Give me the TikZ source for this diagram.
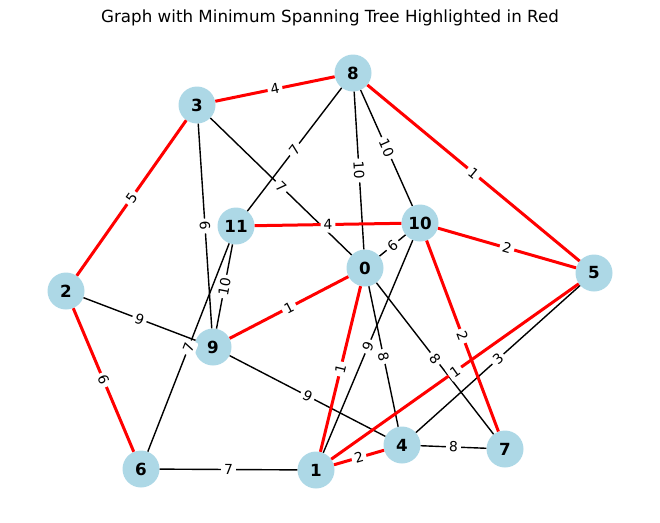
\documentclass[tikz,border=0pt]{standalone}
\usepackage{fontspec}
\setmainfont{DejaVu Sans}
\usetikzlibrary{positioning}
\definecolor{nodeblue}{RGB}{173,216,230}
\tikzset{%
  vertex/.style={circle,fill=nodeblue,minimum size=37pt,inner sep=0pt,
    font=\fontsize{16.7}{18}\selectfont\bfseries},
  edge/.style={draw=black,line width=1.4pt},
  mst/.style={draw=red,line width=3pt},
  wt/.style={midway,sloped,fill=white,rounded corners=2pt,inner sep=3pt,
    font=\fontsize{13.9}{15}\selectfont}%
}

\begin{document}
\begin{tikzpicture}[x=1pt,y=-1pt]

% canvas
\useasboundingbox (0,0) rectangle (660,522);

% Title
\node[font=\fontsize{16.7}{18}\selectfont] (title) at (330,18)
{Graph with Minimum Spanning Tree Highlighted in Red};

% Vertices
\node[vertex] (n8)  at (353,73)  {8};
\node[vertex] (n3)  at (197,105) {3};
\node[vertex] (n11) at (236,226) {11};
\node[vertex] (n10) at (420,223) {10};
\node[vertex] (n0)  at (365,268) {0};
\node[vertex] (n5)  at (594,273) {5};
\node[vertex] (n2)  at (66,291)  {2};
\node[vertex] (n9)  at (213,347) {9};
\node[vertex] (n4)  at (402,445) {4};
\node[vertex] (n7)  at (505,449) {7};
\node[vertex] (n6)  at (141,469) {6};
\node[vertex] (n1)  at (316,470) {1};

% Remaining edges
\foreach \a/\b/\w in {8/11/7, 8/0/10, 8/10/10, 3/0/7, 3/9/6, 11/9/10,
    11/6/7, 10/0/6, 10/1/9, 2/9/9, 9/4/9, 0/4/8, 0/7/8, 5/4/3, 4/7/8, 6/1/7}
  \draw[edge] (n\a) -- node[wt] {\w} (n\b);

% Spanning tree edges
\foreach \a/\b/\w in {3/8/4, 3/2/5, 2/6/6, 8/5/1, 11/10/4, 10/5/2,
    10/7/2, 0/9/1, 0/1/1, 5/1/1, 1/4/2}
  \draw[mst] (n\a) -- node[wt] {\w} (n\b);

\end{tikzpicture}
\end{document}
